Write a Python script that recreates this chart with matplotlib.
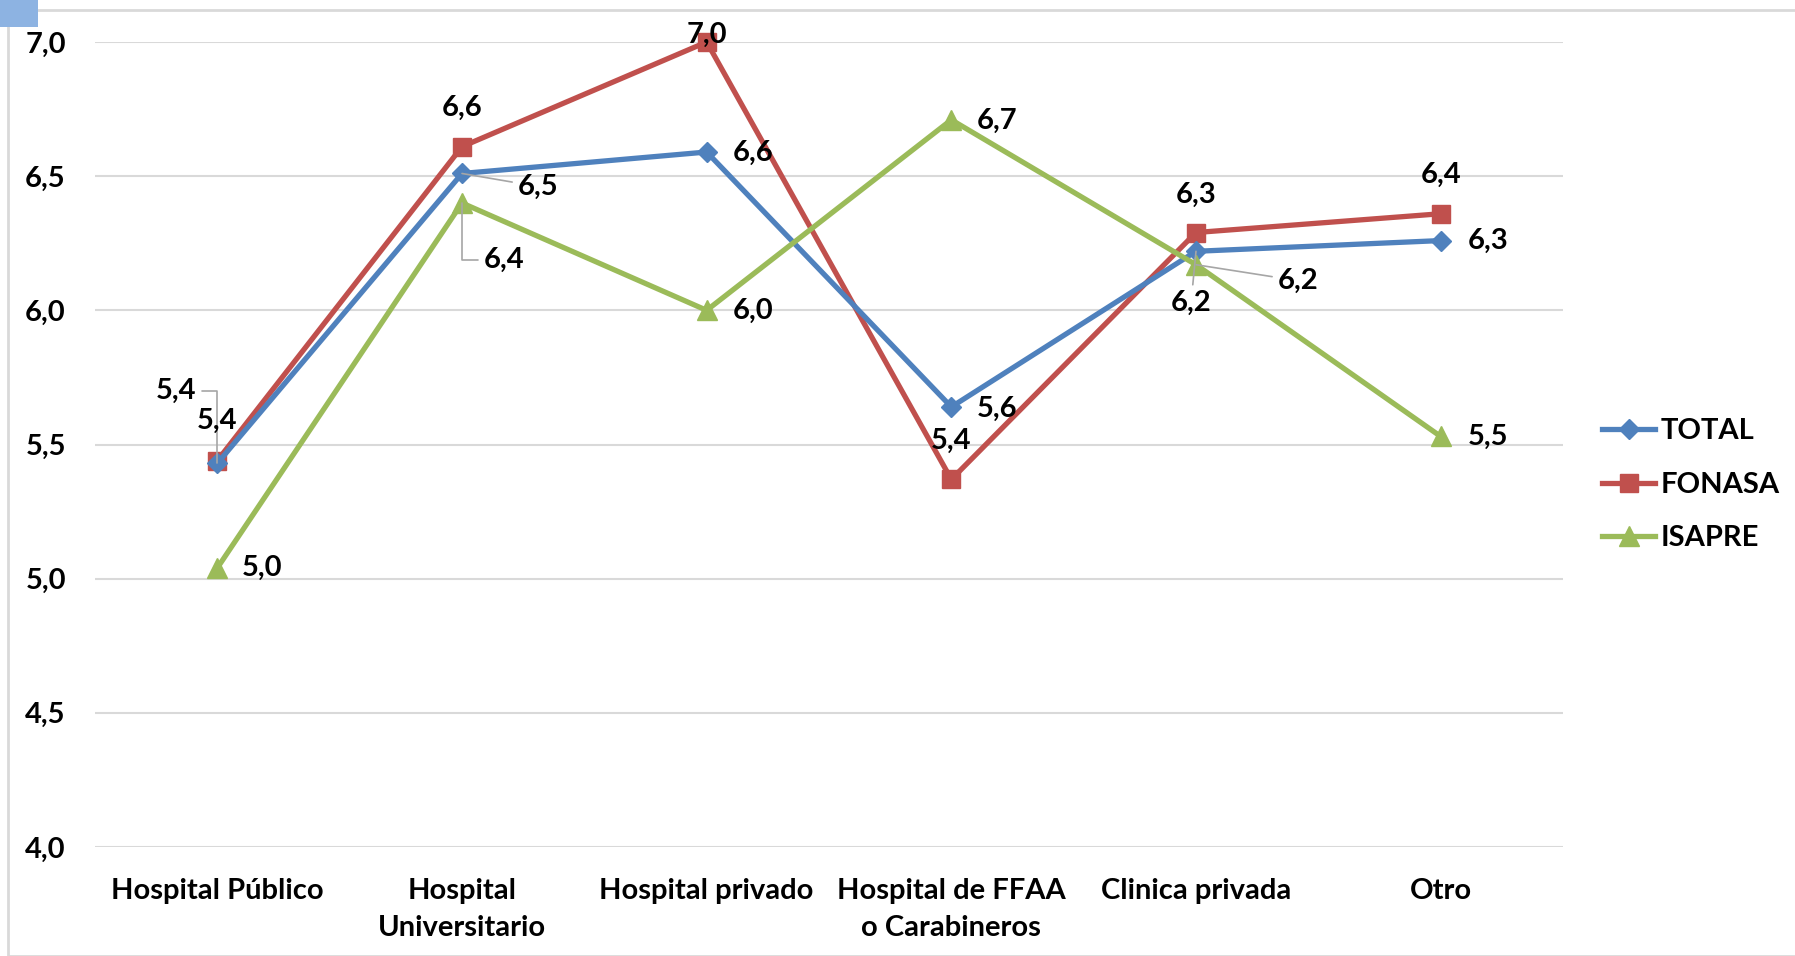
import matplotlib
matplotlib.use('Agg')
import matplotlib.pyplot as plt
import matplotlib.patches as mpatches

plt.rcParams['font.family'] = ['Lato', 'DejaVu Sans']
plt.rcParams['font.weight'] = 'bold'

# ── datos ─────────────────────────────────────────────
categorias = ['Hospital Público', 'Hospital\nUniversitario', 'Hospital privado',
              'Hospital de FFAA\no Carabineros', 'Clinica privada', 'Otro']
total  = [5.43, 6.51, 6.59, 5.64, 6.22, 6.26]
fonasa = [5.44, 6.61, 7.00, 5.37, 6.29, 6.36]
isapre = [5.04, 6.40, 6.00, 6.71, 6.17, 5.53]
y_ticks = [4.0, 4.5, 5.0, 5.5, 6.0, 6.5, 7.0]

# desplazamiento de etiquetas (px) y si llevan linea guia
off_total  = [(-41, 72), (76, -13), (46, -1), (46, -2), (-5, -52), (47, 0)]
off_fonasa = [(0, 40), (0, 39), (0, 7), (0, 39), (0, 38), (0, 39)]
off_isapre = [(45, 0), (42, -57), (46, -1), (46, -1), (102, -16), (47, 0)]
guia_total  = [True, True, False, False, True, False]
guia_isapre = [False, True, False, False, True, False]

C_TOTAL, C_FONASA, C_ISAPRE = '#4F81BD', '#C0504D', '#9BBB59'
GRIS = '#D9D9D9'
FS = 21

fig = plt.figure(figsize=(17.95, 9.56), dpi=100)
ax = fig.add_axes([95 / 1795, 1 - 847 / 956, 1468 / 1795, 805 / 956])

# marco exterior + recuadro azul de seleccion
fig.patches.append(mpatches.Rectangle((8 / 1795, 0), 1.0, 1 - 10 / 956,
                                      transform=fig.transFigure, fill=False,
                                      ec='#D9D9D9', lw=2))
fig.patches.append(mpatches.Rectangle((0, 1 - 27 / 956), 38 / 1795, 27 / 956,
                                      transform=fig.transFigure, fc='#8DB3E2',
                                      ec='none'))

x = list(range(len(categorias)))
ax.plot(x, total, color=C_TOTAL, lw=3.8, marker='D', ms=10, label='TOTAL',
        clip_on=False, zorder=4)
ax.plot(x, fonasa, color=C_FONASA, lw=3.8, marker='s', ms=13, label='FONASA',
        clip_on=False, zorder=3)
ax.plot(x, isapre, color=C_ISAPRE, lw=3.8, marker='^', ms=14, label='ISAPRE',
        clip_on=False, zorder=5)


def etiquetas(vals, offs, guias=None):
    for i, (v, (dx, dy)) in enumerate(zip(vals, offs)):
        kw = {}
        if guias and guias[i]:
            cs = 'angle,angleA=0,angleB=90,rad=0' if abs(dx) < 60 and abs(dy) > 50 and i in (0, 1) else 'arc3'
            kw['arrowprops'] = dict(arrowstyle='-', color='#A6A6A6', lw=1.2,
                                    shrinkA=2, shrinkB=0, connectionstyle=cs)
        ax.annotate(f'{v:.1f}'.replace('.', ','), (i, v), xytext=(dx, dy),
                    textcoords='offset pixels', ha='center', va='center',
                    fontsize=FS, fontweight='bold', zorder=6, **kw)


etiquetas(total, off_total, guia_total)
etiquetas(fonasa, off_fonasa)
etiquetas(isapre, off_isapre, guia_isapre)

ax.set_xlim(-0.5, len(categorias) - 0.5)
ax.set_ylim(4.0, 7.0)
ax.set_yticks(y_ticks)
ax.set_yticklabels([f'{t:.1f}'.replace('.', ',') for t in y_ticks],
                   fontsize=FS, fontweight='bold')
ax.set_xticks(x)
ax.set_xticklabels(categorias, fontsize=FS, fontweight='bold', linespacing=1.55)
ax.tick_params(axis='y', length=0, pad=21)
ax.tick_params(axis='x', length=0, pad=22)
ax.grid(axis='y', color=GRIS, lw=1.5)
ax.set_axisbelow(True)
for s in ax.spines.values():
    s.set_visible(False)

ax.legend(loc='center left', bbox_to_anchor=(1.009, 0.45), frameon=False,
          handlelength=1.8, handletextpad=0.2, labelspacing=0.95,
          prop={'weight': 'bold', 'size': FS})

fig.savefig('out.png', dpi=100)
